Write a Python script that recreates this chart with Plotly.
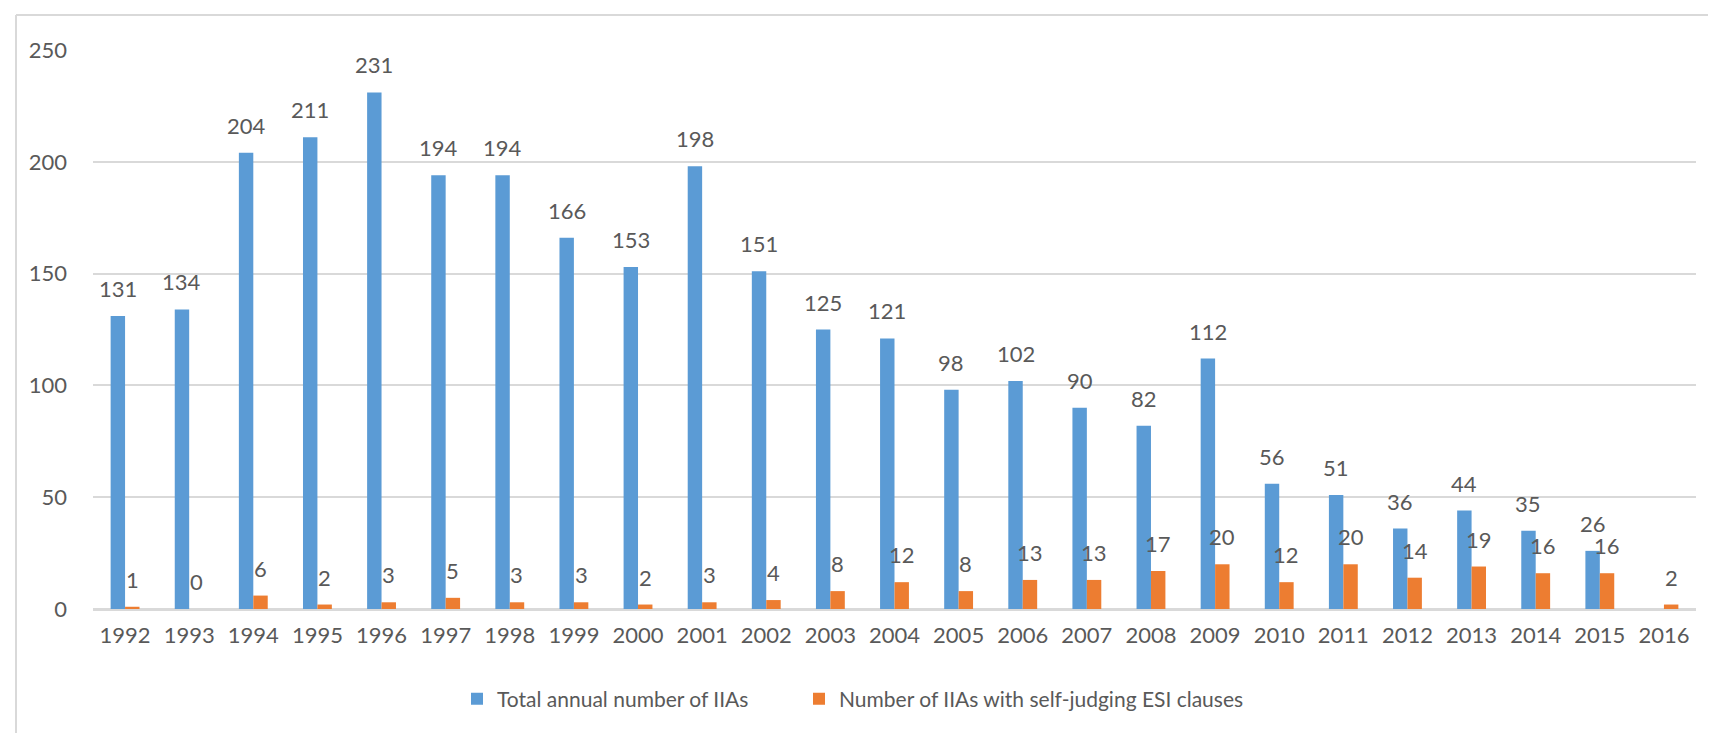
import plotly.graph_objects as go

years = [str(y) for y in range(1992, 2017)]
total_iias = [131, 134, 204, 211, 231, 194, 194, 166, 153, 198, 151, 125, 121,
              98, 102, 90, 82, 112, 56, 51, 36, 44, 35, 26, None]
esi_iias = [1, 0, 6, 2, 3, 5, 3, 3, 2, 3, 4, 8, 12, 8, 13, 13, 17, 20, 12, 20,
            14, 19, 16, 16, 2]
series_names = ["Total annual number of IIAs",
                "Number of IIAs with self-judging ESI clauses"]
series_colors = ["#5B9BD5", "#ED7D31"]

FONT = "Lato, 'Open Sans', sans-serif"
TXT = "#595959"
GRID = "#D9D9D9"
FS = 22

L, R, T, B = 85, 1688, 42, 601
W, H = 1716, 733
pw, ph = R - L, B - T
BARGAP = 0.55

fig = go.Figure()
fig.add_trace(go.Bar(x=years, y=total_iias, name=series_names[0],
                     marker=dict(color=series_colors[0], line=dict(width=0)),
                     legend="legend"))
fig.add_trace(go.Bar(x=years, y=esi_iias, name=series_names[1],
                     marker=dict(color=series_colors[1], line=dict(width=0)),
                     legend="legend2"))

# data labels above each bar (x given as category index on the category axis)
cat_w = pw / len(years)
half = cat_w * (1 - BARGAP) / 4
annotations = []
for vals, shift in ((total_iias, -half), (esi_iias, half)):
    for i, v in enumerate(vals):
        if v is None:
            continue
        annotations.append(dict(x=i, y=v, xref="x", yref="y", text=str(v),
                                showarrow=False, xshift=shift, yshift=12,
                                yanchor="bottom", xanchor="center",
                                font=dict(family=FONT, size=FS, color=TXT)))

def px_x(p):
    return (p - L) / pw

def px_y(p):
    return (B - p) / ph

leg_common = dict(orientation="h", xanchor="left", yanchor="middle",
                  y=px_y(691), bgcolor="rgba(0,0,0,0)",
                  font=dict(family=FONT, size=21, color=TXT))

fig.update_layout(
    width=W, height=H,
    margin=dict(l=L, r=W - R, t=T, b=H - B, autoexpand=False),
    paper_bgcolor="white", plot_bgcolor="white",
    barmode="group", bargap=BARGAP, bargroupgap=0,
    font=dict(family=FONT, size=FS, color=TXT),
    showlegend=True,
    legend=dict(x=px_x(449), **leg_common),
    legend2=dict(x=px_x(791), **leg_common),
    annotations=annotations,
    xaxis=dict(type="category", showgrid=False, showline=True,
               linecolor=GRID, linewidth=2, ticks="",
               range=[-0.5, len(years) - 0.5],
               ticklabelstandoff=6,
               tickfont=dict(family=FONT, size=FS, color=TXT)),
    yaxis=dict(range=[0, 250], dtick=50, showgrid=True, gridcolor=GRID,
               gridwidth=2, zeroline=True, zerolinecolor=GRID, zerolinewidth=2,
               showline=False, ticks="", ticklabelstandoff=25,
               tickfont=dict(family=FONT, size=FS, color=TXT)),
)

# outer chart frame (cut off at right and bottom, as in the reference)
fx0 = px_x(8)
fy1 = px_y(7)
fig.add_shape(type="line", xref="paper", yref="paper",
              x0=fx0, x1=px_x(W + 10), y0=fy1, y1=fy1,
              line=dict(color=GRID, width=2))
fig.add_shape(type="line", xref="paper", yref="paper",
              x0=fx0, x1=fx0, y0=fy1, y1=px_y(H + 10),
              line=dict(color=GRID, width=2))

fig.write_html("out.html")
